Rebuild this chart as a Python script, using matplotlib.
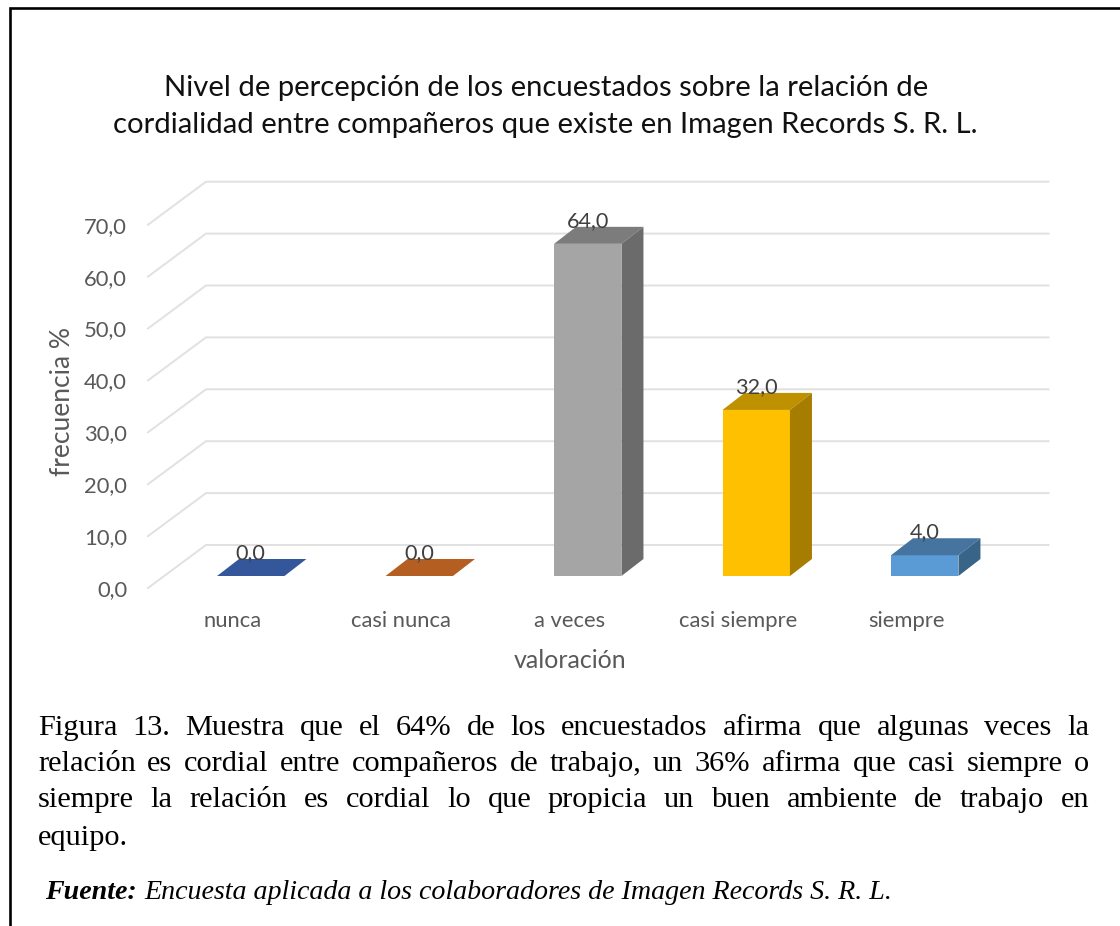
import matplotlib
matplotlib.use("Agg")
import matplotlib.pyplot as plt
from matplotlib.patches import Polygon

# ---- data ----
categories = ["nunca", "casi nunca", "a veces", "casi siempre", "siempre"]
values = [0.0, 0.0, 64.0, 32.0, 4.0]
y_ticks = [0, 10, 20, 30, 40, 50, 60, 70]
front_colors = ["#2F5597", "#C55A11", "#A5A5A5", "#FFC000", "#5B9BD5"]
top_colors = ["#33579A", "#B55E22", "#7C7C7C", "#BF9000", "#44749F"]
side_colors = ["#264478", "#9E480E", "#6B6B6B", "#A67D00", "#376487"]

title_lines = ["Nivel de percepción de los encuestados sobre la relación de",
               "cordialidad entre compañeros que existe en Imagen Records S. R. L."]
caption_lines = [
    "Figura 13. Muestra que el 64% de los encuestados afirma que algunas veces la",
    "relación es cordial entre compañeros de trabajo, un 36% afirma que casi siempre o",
    "siempre la relación es cordial lo que propicia un buen ambiente de trabajo en",
    "equipo.",
]
source_bold = "Fuente:"
source_rest = "Encuesta aplicada a los colaboradores de Imagen Records S. R. L."

W, H = 1120, 926
plt.rcParams["font.family"] = ["Lato", "DejaVu Sans"]
fig = plt.figure(figsize=(W / 100, H / 100), dpi=100, facecolor="white")

# front plane of the 3D chart: 0 at y=588 px, 70 at y=224.7 px, x from 148 to 990.5 px
L, R, B, T = 148, 990.5, 588, 224.7
ax = fig.add_axes([L / W, 1 - B / H, (R - L) / W, (B - T) / H])
ax.set_xlim(-0.5, 4.5)
ax.set_ylim(0, 70)
ax.patch.set_visible(False)
for s in ax.spines.values():
    s.set_visible(False)

px_x = 5 / (R - L)        # data units per pixel
px_y = 70 / (B - T)

# depth of back wall, position of bars on the floor, depth of bars
wall_dx, wall_dy = 58 * px_x, 43 * px_y
floor_dx, floor_dy = 18.5 * px_x, 12 * px_y
bar_dx, bar_dy = 22 * px_x, 17 * px_y
bar_w = 0.4

# gridlines: side wall and back wall
for v in y_ticks:
    ax.plot([-0.5, -0.5 + wall_dx, 4.5 + wall_dx], [v, v + wall_dy, v + wall_dy],
            color="#E1E1E1", lw=1.4, clip_on=False, zorder=1, solid_joinstyle="miter")

# bars
xs = [i + floor_dx for i in range(len(values))]
ax.bar(xs, values, width=bar_w, bottom=floor_dy, color=front_colors, clip_on=False, zorder=3)
for x, v, tc, sc in zip(xs, values, top_colors, side_colors):
    x0, x1 = x - bar_w / 2, x + bar_w / 2
    y0, y1 = floor_dy, floor_dy + v
    ax.add_patch(Polygon([(x0, y1), (x1, y1), (x1 + bar_dx, y1 + bar_dy), (x0 + bar_dx, y1 + bar_dy)],
                         closed=True, fc=tc, ec="none", clip_on=False, zorder=3))
    if v > 0:
        ax.add_patch(Polygon([(x1, y0), (x1 + bar_dx, y0 + bar_dy), (x1 + bar_dx, y1 + bar_dy), (x1, y1)],
                             closed=True, fc=sc, ec="none", clip_on=False, zorder=3))
    ax.text(x, y1 + bar_dy + 6 * px_y, f"{v:.1f}".replace(".", ","), ha="center", va="center",
            fontsize=15.6, color="#404040", zorder=4)

# axes text
ax.set_yticks(y_ticks, [f"{v:.1f}".replace(".", ",") for v in y_ticks])
ax.set_xticks(range(len(categories)), categories)
ax.tick_params(axis="both", length=0, labelsize=15.8, labelcolor="#595959")
ax.tick_params(axis="y", pad=15)
ax.tick_params(axis="x", pad=16.5)
for lab in ax.get_yticklabels():
    lab.set_va("center_baseline")
ax.set_ylabel("frecuencia %", fontsize=19, color="#595959")
ax.set_xlabel("valoración", fontsize=18, color="#595959")
ax.yaxis.set_label_coords((63 - L) / (R - L), (B - 402) / (B - T))
ax.xaxis.set_label_coords((570 - L) / (R - L), (B - 660) / (B - T))
ax.xaxis.label.set_va("center")
ax.yaxis.label.set_va("center")

def put(x, y, s, **kw):
    return fig.text(x / W, 1 - y / H, s, **kw)

# title
put(546.5, 96, title_lines[0], ha="center", va="baseline", fontsize=21.1, color="#111111")
put(545, 133, title_lines[1], ha="center", va="baseline", fontsize=21.1, color="#111111")

# justified caption, word by word
cap_font = dict(family="Liberation Serif", fontsize=21.9, color="black", va="baseline")
left, right = 38, 1089
baselines = [735, 771, 807, 845]
renderer = fig.canvas.get_renderer()
for i, (line, yb) in enumerate(zip(caption_lines, baselines)):
    words = line.split(" ")
    texts = [put(left, yb, w, **cap_font) for w in words]
    widths = [t.get_window_extent(renderer).width for t in texts]
    if i < len(caption_lines) - 1:
        gap = (right - left - sum(widths)) / (len(words) - 1)
    else:
        gap = 6
    x = left
    for t, w in zip(texts, widths):
        t.set_position((x / W, 1 - yb / H))
        x += w + gap

# source line
src_y = 899
src_font = dict(family="Liberation Serif", fontsize=20.2, style="italic", color="black", va="baseline")
t = put(45, src_y, source_bold, weight="bold", **src_font)
x_end = t.get_window_extent(renderer).x1
put(x_end + 8, src_y, source_rest, **src_font)

# outer frame: top and left edges only
frame_x = [9.5 / W, 9.5 / W, 1]
frame_y = [0, 1 - 8 / H, 1 - 8 / H]
fig.add_artist(plt.Line2D(frame_x, frame_y, color="black", lw=1.9, solid_joinstyle="miter"))

fig.savefig("out.png", dpi=100)
